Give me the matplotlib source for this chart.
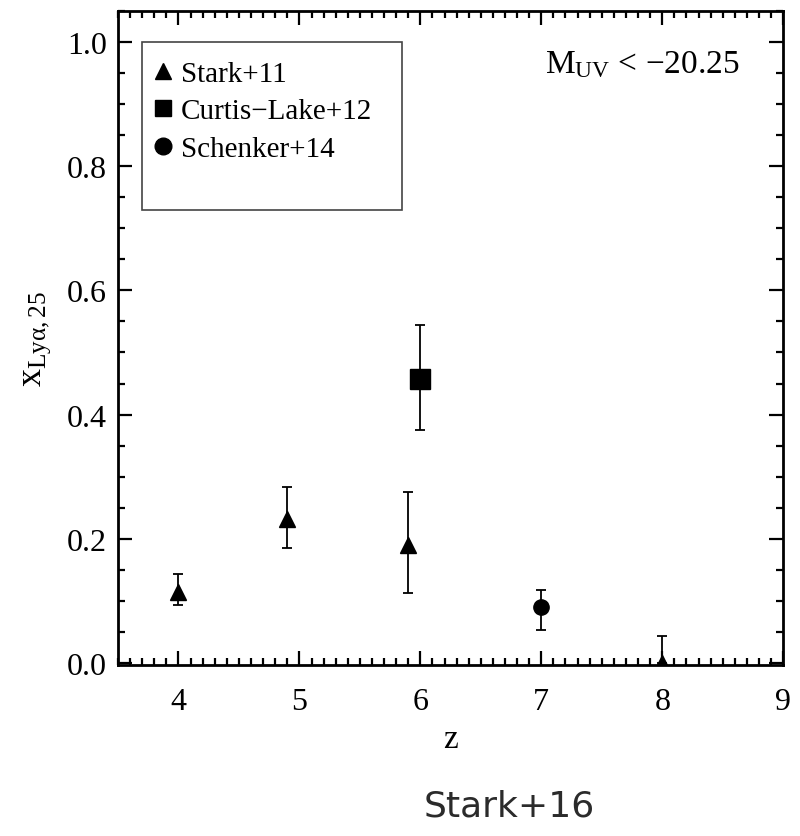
import matplotlib.pyplot as plt
from matplotlib.patches import Rectangle
from matplotlib.lines import Line2D
from matplotlib.ticker import MultipleLocator

plt.rcParams['font.family'] = ['Liberation Serif', 'DejaVu Serif']
plt.rcParams['mathtext.fontset'] = 'custom'
plt.rcParams['mathtext.rm'] = 'Liberation Serif'
plt.rcParams['mathtext.it'] = 'Liberation Serif:italic'

# Stark+11 (triangles)
stark_z = [4.0, 4.9, 5.9, 8.0]
stark_x = [0.115, 0.232, 0.190, 0.0]
stark_lo = [0.022, 0.047, 0.077, 0.0]
stark_hi = [0.029, 0.052, 0.085, 0.043]
# Curtis-Lake+12 (square)
cl_z = [6.0]
cl_x = [0.457]
cl_lo = [0.082]
cl_hi = [0.087]
# Schenker+14 (circle)
sch_z = [7.0]
sch_x = [0.091]
sch_lo = [0.037]
sch_hi = [0.026]

labels = ['Stark+11', 'Curtis\u2212Lake+12', 'Schenker+14']

fig = plt.figure(figsize=(8, 8.37), dpi=100)
ax = fig.add_axes([0.1475, 0.2043, 0.8315, 0.7817])

ekw = dict(color='black', ecolor='black', elinewidth=1.3, capsize=3.5, capthick=1.3, linestyle='none')
ax.errorbar(stark_z, stark_x, yerr=[stark_lo, stark_hi], marker='^', markersize=11, **ekw)
ax.errorbar(cl_z, cl_x, yerr=[cl_lo, cl_hi], marker='s', markersize=14, **ekw)
ax.errorbar(sch_z, sch_x, yerr=[sch_lo, sch_hi], marker='o', markersize=11, **ekw)

ax.set_xlim(3.5, 9)
ax.set_ylim(-0.003, 1.05)
ax.xaxis.set_major_locator(MultipleLocator(1))
ax.xaxis.set_minor_locator(MultipleLocator(0.1))
ax.yaxis.set_major_locator(MultipleLocator(0.2))
ax.yaxis.set_minor_locator(MultipleLocator(0.05))
ax.yaxis.set_major_formatter(plt.FuncFormatter(lambda v, p: '%.1f' % v))
ax.tick_params(which='both', direction='in', top=True, right=True, labelsize=23, width=1.6)
ax.tick_params(which='major', length=10)
ax.tick_params(which='minor', length=5)
ax.tick_params(axis='x', which='major', pad=16)
ax.tick_params(axis='y', which='major', pad=8)
for s in ax.spines.values():
    s.set_linewidth(2)

ax.set_xlabel('z', fontsize=24, labelpad=5)
ax.set_ylabel(r'$\mathrm{x_{Ly\alpha,25}}$', fontsize=26, labelpad=10)

ax.text(0.935, 0.918, r'$\mathrm{M_{UV}}$ < ' + '\u221220.25', transform=ax.transAxes,
        ha='right', va='center', fontsize=24)

ax.add_patch(Rectangle((0.0356, 0.696), 0.392, 0.2566, transform=ax.transAxes,
                       fill=False, edgecolor='#444444', linewidth=1.2))
handles = [Line2D([], [], marker='^', color='black', linestyle='none', markersize=12),
           Line2D([], [], marker='s', color='black', linestyle='none', markersize=12),
           Line2D([], [], marker='o', color='black', linestyle='none', markersize=12)]
ax.legend(handles, labels, loc='upper left', bbox_to_anchor=(0.022, 0.955), frameon=False,
          fontsize=21, handlelength=0.7, handletextpad=0.25, labelspacing=0.38, borderpad=0.2)

fig.text(0.637, 0.037, 'Stark+16', fontsize=26, color='#2b2b2b', ha='center', va='center',
         family='DejaVu Sans')

plt.savefig('out.png')
